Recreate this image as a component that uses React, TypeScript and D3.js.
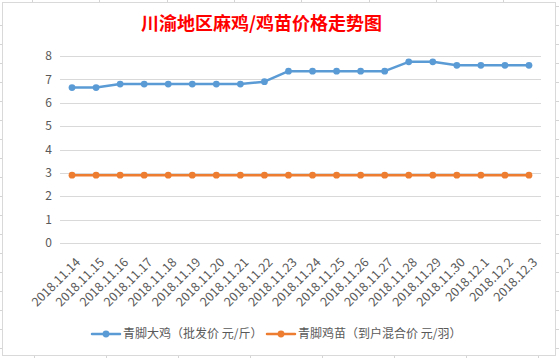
import React from "react";
import * as d3 from "d3";

const dates = [
  "2018.11.14", "2018.11.15", "2018.11.16", "2018.11.17", "2018.11.18",
  "2018.11.19", "2018.11.20", "2018.11.21", "2018.11.22", "2018.11.23",
  "2018.11.24", "2018.11.25", "2018.11.26", "2018.11.27", "2018.11.28",
  "2018.11.29", "2018.11.30", "2018.12.1", "2018.12.2", "2018.12.3",
];
const broilerPrice = [
  6.65, 6.65, 6.8, 6.8, 6.8, 6.8, 6.8, 6.8, 6.9, 7.35,
  7.35, 7.35, 7.35, 7.35, 7.75, 7.75, 7.6, 7.6, 7.6, 7.6,
];
const chickPrice = [
  2.9, 2.9, 2.9, 2.9, 2.9, 2.9, 2.9, 2.9, 2.9, 2.9,
  2.9, 2.9, 2.9, 2.9, 2.9, 2.9, 2.9, 2.9, 2.9, 2.9,
];
const yTicks = [0, 1, 2, 3, 4, 5, 6, 7, 8];
const title = "川渝地区麻鸡/鸡苗价格走势图";
const seriesNames = ["青脚大鸡（批发价 元/斤）", "青脚鸡苗（到户混合价 元/羽）"];
const colors = ["#5b9bd5", "#ed7d31"];

const W = 559;
const H = 358;
const FONT = "'Noto Sans CJK SC', 'Microsoft YaHei', sans-serif";

export default function App() {
  const x = d3.scaleBand<string>().domain(dates).range([60, 541]);
  const cx = (d: string) => (x(d) ?? 0) + x.bandwidth() / 2;
  const y = d3.scaleLinear().domain([0, 8]).range([243, 56]);
  const line = d3
    .line<number>()
    .x((_, i) => cx(dates[i]))
    .y((v) => y(v));
  const series = [broilerPrice, chickPrice];

  const rowLines = d3.range(25, 350, 19);
  const topCols = d3.range(0, 8).map((i) => 32 + i * 67.3);
  const botCols = d3.range(0, 8).map((i) => 34 + i * 72);

  const legendItems = [
    { x0: 92, tx: 123 },
    { x0: 267, tx: 298 },
  ];

  return (
    <svg
      width={W}
      height={H}
      style={{ position: "absolute", left: 0, top: 0, background: "#fff" }}
      fontFamily={FONT}
    >
      <g stroke="#d4d4d4" strokeWidth={1}>
        {rowLines.map((r) => (
          <line key={"l" + r} x1={0} x2={2} y1={r + 0.5} y2={r + 0.5} />
        ))}
        {[6, ...rowLines].map((r) => (
          <line key={"r" + r} x1={556} x2={559} y1={r + 0.5} y2={r + 0.5} />
        ))}
        {topCols.map((c) => (
          <line key={"t" + c} x1={Math.round(c) + 0.5} x2={Math.round(c) + 0.5} y1={0} y2={2} />
        ))}
        {botCols.map((c) => (
          <line key={"b" + c} x1={Math.round(c) + 0.5} x2={Math.round(c) + 0.5} y1={356} y2={358} />
        ))}
      </g>
      <rect x={2.5} y={2.5} width={553} height={353} fill="#fff" stroke="#d9d9d9" />

      <text
        x={261.5}
        y={30}
        textAnchor="middle"
        fill="#ff0000"
        fontSize={18}
        fontWeight="bold"
      >
        {title}
      </text>

      <g stroke="#d9d9d9" strokeWidth={1}>
        {yTicks.map((t) => (
          <line key={t} x1={60} x2={541} y1={Math.round(y(t)) + 0.5} y2={Math.round(y(t)) + 0.5} />
        ))}
      </g>
      <g fill="#595959" fontSize={12.5}>
        {yTicks.map((t) => (
          <text key={t} x={52} y={y(t)} dy="0.35em" textAnchor="end" fontSize={12}>
            {t}
          </text>
        ))}
        {dates.map((d) => (
          <text
            key={d}
            transform={`translate(${cx(d) + 6},${260}) rotate(-45)`}
            textAnchor="end"
            dy="0.35em"
          >
            {d}
          </text>
        ))}
      </g>

      {series.map((s, si) => (
        <g key={si}>
          <path
            d={line(s) ?? ""}
            fill="none"
            stroke={colors[si]}
            strokeWidth={2.5}
            strokeLinejoin="round"
            strokeLinecap="round"
          />
          {s.map((v, i) => (
            <circle key={i} cx={cx(dates[i])} cy={y(v)} r={3.4} fill={colors[si]} />
          ))}
        </g>
      ))}

      {legendItems.map((it, i) => (
        <g key={i}>
          <line
            x1={it.x0}
            x2={it.x0 + 28}
            y1={334}
            y2={334}
            stroke={colors[i]}
            strokeWidth={2.5}
            strokeLinecap="round"
          />
          <circle cx={it.x0 + 14} cy={334} r={3.4} fill={colors[i]} />
          <text x={it.tx} y={334} dy="0.35em" fontSize={12} fill="#595959">
            {seriesNames[i]}
          </text>
        </g>
      ))}
    </svg>
  );
}
